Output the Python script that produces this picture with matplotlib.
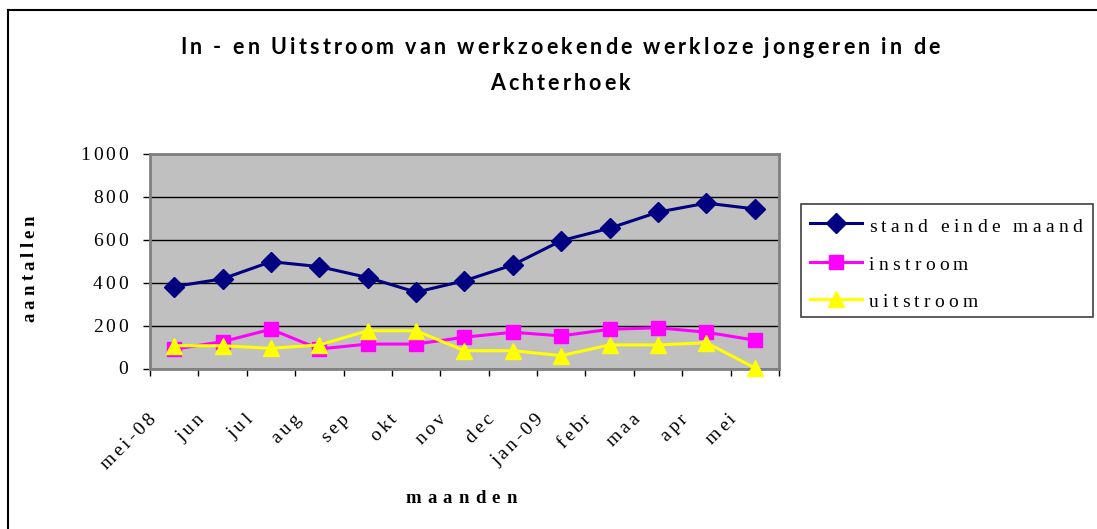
import numpy as np
import matplotlib
matplotlib.use("Agg")
import matplotlib.pyplot as plt
from matplotlib.font_manager import FontProperties
from matplotlib.lines import Line2D
from matplotlib.patches import Rectangle

# ---------------- data ----------------
months = ['mei-08', 'jun', 'jul', 'aug', 'sep', 'okt', 'nov', 'dec',
          'jan-09', 'febr', 'maa', 'apr', 'mei']
stand = [382, 418, 498, 475, 424, 356, 409, 483, 596, 654, 729, 771, 744]
instroom = [90, 125, 183, 91, 114, 114, 146, 169, 152, 183, 190, 169, 132]
uitstroom = [106, 106, 94, 110, 176, 176, 83, 83, 60, 110, 110, 120, 3]
series_names = ['stand einde maand', 'instroom', 'uitstroom']
yticks = [0, 200, 400, 600, 800, 1000]
title_lines = ['In - en Uitstroom van werkzoekende werkloze jongeren in de',
               'Achterhoek']
xlabel = 'maanden'
ylabel = 'aantallen'

# ---------------- figure ----------------
W, H = 1097, 529
fig = plt.figure(figsize=(W / 100, H / 100), dpi=100)
renderer = fig.canvas.get_renderer()

serif = FontProperties(family='Liberation Serif', size=14)
serif_b = FontProperties(family='Liberation Serif', size=13.5, weight='bold')
title_fp = FontProperties(family='Lato', size=15.5, weight='bold')


def char_widths(s, fp):
    base = renderer.get_text_width_height_descent('||', fp, ismath=False)[0]
    return [renderer.get_text_width_height_descent('|' + c + '|', fp, ismath=False)[0] - base
            for c in s]


def fit_track(s, fp, width):
    return (width - sum(char_widths(s, fp))) / (len(s) - 1)


def tracked(x, y, s, fp, track, ha='left', angle=0, color='black'):
    """Draw letter-spaced text; x, y in display pixels (origin bottom-left), y = baseline."""
    ws = char_widths(s, fp)
    total = sum(ws) + track * (len(s) - 1)
    off = {'left': 0.0, 'center': total / 2.0, 'right': total}[ha]
    a = np.deg2rad(angle)
    dx, dy = np.cos(a), np.sin(a)
    pos = -off
    for c, w in zip(s, ws):
        if c != ' ':
            fig.text((x + pos * dx) / W, (y + pos * dy) / H, c, fontproperties=fp,
                     rotation=angle, rotation_mode='anchor', ha='left', va='baseline',
                     color=color)
        pos += w + track


# outer chart border (left and top visible)
fig.add_artist(Line2D([8 / W, 8 / W], [0, (H - 10) / H], color='black', lw=1.5))
fig.add_artist(Line2D([8 / W, 1], [(H - 10) / H, (H - 10) / H], color='black', lw=1.5))

# plot area
ax = fig.add_axes([150 / W, (H - 368.5) / H, 629 / W, 214.5 / H])
ax.set_facecolor('#C0C0C0')
x = np.arange(len(months))

styles = [dict(color='#000080', marker='D', markersize=10.5),
          dict(color='#FF00FF', marker='s', markersize=9.5),
          dict(color='#FFFF00', marker='^', markersize=11)]
lines = []
for vals, st in zip([stand, instroom, uitstroom], styles):
    ln, = ax.plot(x, vals, lw=2.2, markeredgecolor=st['color'], clip_on=False,
                  zorder=3, **st)
    lines.append(ln)

ax.set_xlim(-0.5, len(months) - 0.5)
ax.set_ylim(0, 1000)
ax.set_yticks(yticks)
ax.set_yticklabels([])
ax.set_xticks(np.arange(-0.5, len(months), 1.0))
ax.set_xticklabels([])
ax.tick_params(axis='both', direction='out', length=5, width=1, color='black')
ax.yaxis.grid(True, color='black', lw=1)
ax.set_axisbelow(True)
for sp in ax.spines.values():
    sp.set_color('#808080')
    sp.set_linewidth(2)

# y tick labels
for v in yticks:
    _, gy = ax.transData.transform((0, v))
    tracked(128, gy - 6, str(v), serif, 3.0, ha='right')

# x tick labels (rotated 45 deg)
for i, m in enumerate(months):
    cx, _ = ax.transData.transform((i, 0))
    tracked(cx - 18, H - 420, m, serif, 3.0, ha='right', angle=45)

# axis titles
tracked(461, H - 503, xlabel, serif_b, fit_track(xlabel, serif_b, 112), ha='center')
tracked(34, H - 322, ylabel, serif_b, fit_track(ylabel, serif_b, 107), ha='left', angle=90)

# chart title
t_track = fit_track(title_lines[0], title_fp, 760)
tracked(560, H - 54, title_lines[0], title_fp, t_track, ha='center')
tracked(560, H - 90, title_lines[1], title_fp, t_track, ha='center')

# legend
fig.add_artist(Rectangle((801 / W, (H - 317) / H), 292 / W, 113 / H,
                         transform=fig.transFigure, facecolor='white',
                         edgecolor='#404040', lw=1.2))
rows = [(223, 232), (262, 270), (299, 307)]
leg_track = fit_track(series_names[0], serif, 213)
for ln, name, (ly, by) in zip(lines, series_names, rows):
    fig.add_artist(Line2D([810 / W, 862 / W], [(H - ly) / H] * 2, color=ln.get_color(),
                          lw=2.2))
    fig.add_artist(Line2D([836 / W], [(H - ly) / H], color=ln.get_color(),
                          marker=ln.get_marker(), markersize=ln.get_markersize(),
                          markeredgecolor=ln.get_color(), lw=0))
    tracked(869, H - by, name, serif, leg_track, ha='left')

fig.savefig('out.png', dpi=100)
